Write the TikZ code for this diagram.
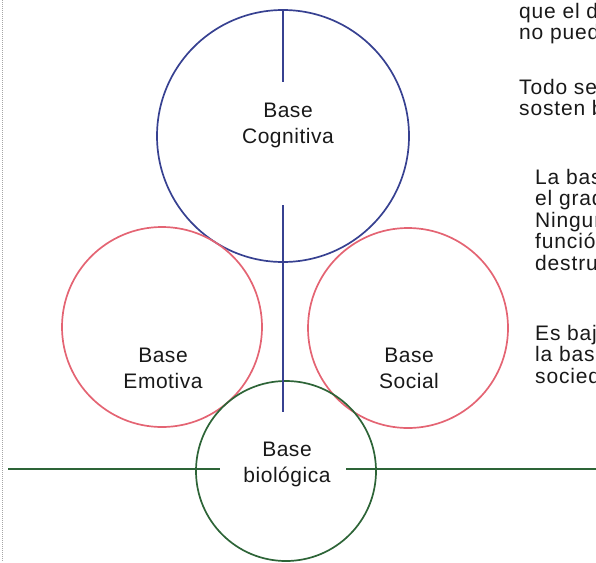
\documentclass[tikz,border=0pt]{standalone}
\usepackage{fontspec}
\setmainfont{Liberation Sans}
\definecolor{cblue}{RGB}{55,65,145}
\definecolor{cred}{RGB}{228,100,115}
\definecolor{cgreen}{RGB}{45,100,55}
\definecolor{ctext}{RGB}{25,25,25}
\begin{document}
\begin{tikzpicture}[x=1pt,y=-1pt,
  ring/.style={circle,draw,line width=1.7pt,inner sep=0pt},
  lbl/.style={anchor=north,align=center,inner sep=0pt,text=ctext,
    font=\fontsize{21}{26}\selectfont\addfontfeature{LetterSpace=2.5}},
  side/.style={anchor=base west,inner sep=0pt,text=ctext,
    font=\fontsize{21}{21.5}\selectfont\addfontfeature{LetterSpace=4}}]
\useasboundingbox (0,0) rectangle (596,562);
\begin{scope}
\clip (0,0) rectangle (596,562);
% left dotted border
\coordinate (bt) at (2,0);
\coordinate (bb) at (2,562);
\draw[gray!70,line width=0.8pt,dash pattern=on 1pt off 1pt] (bt) -- (bb);
% circles
\node[ring,draw=cblue,minimum size=252pt] (cog) at (283,136) {};
\node[ring,draw=cred,minimum size=200pt] (emo) at (162,327) {};
\node[ring,draw=cred,minimum size=200pt] (soc) at (408,328) {};
\node[ring,draw=cgreen,minimum size=180pt] (bio) at (286,471) {};
% vertical blue axis
\coordinate (v1) at (283,82);
\coordinate (v2) at (283,205);
\coordinate (v3) at (283,412);
\draw[cblue,line width=1.5pt] (cog.north) -- (v1);
\draw[cblue,line width=1.5pt] (v2) -- (v3);
% horizontal green ground line
\coordinate (h0) at (8,469);
\coordinate (h1) at (220,469);
\coordinate (h2) at (346,469);
\coordinate (h3) at (596,469);
\draw[cgreen,line width=1.7pt] (h0) -- (h1);
\draw[cgreen,line width=1.7pt] (h2) -- (h3);
% labels
\node[lbl] (cogT) at (288,103) {Base\\Cognitiva};
\node[lbl] (emoT) at (163,348) {Base\\Emotiva};
\node[lbl] (socT) at (409,348) {Base\\Social};
\node[lbl] (bioT) at (287,442) {Base\\biológica};
% right side text (cut off by the picture edge)
\node[side] (t1) at (519,18) {que el de};
\node[side] (t2) at (519,39.5) {no puede};
\node[side] (t3) at (519,94) {Todo ser};
\node[side] (t4) at (519,115.5) {sosten bio};
\node[side] (t5) at (535,184) {La base};
\node[side] (t6) at (535,205.5) {el grado};
\node[side] (t7) at (535,227) {Ninguna};
\node[side] (t8) at (535,248.5) {función};
\node[side] (t9) at (535,270) {destruc};
\node[side] (t10) at (535,340) {Es bajo};
\node[side] (t11) at (535,361.5) {la base};
\node[side] (t12) at (535,383) {sociedad};
\end{scope}
\end{tikzpicture}
\end{document}
